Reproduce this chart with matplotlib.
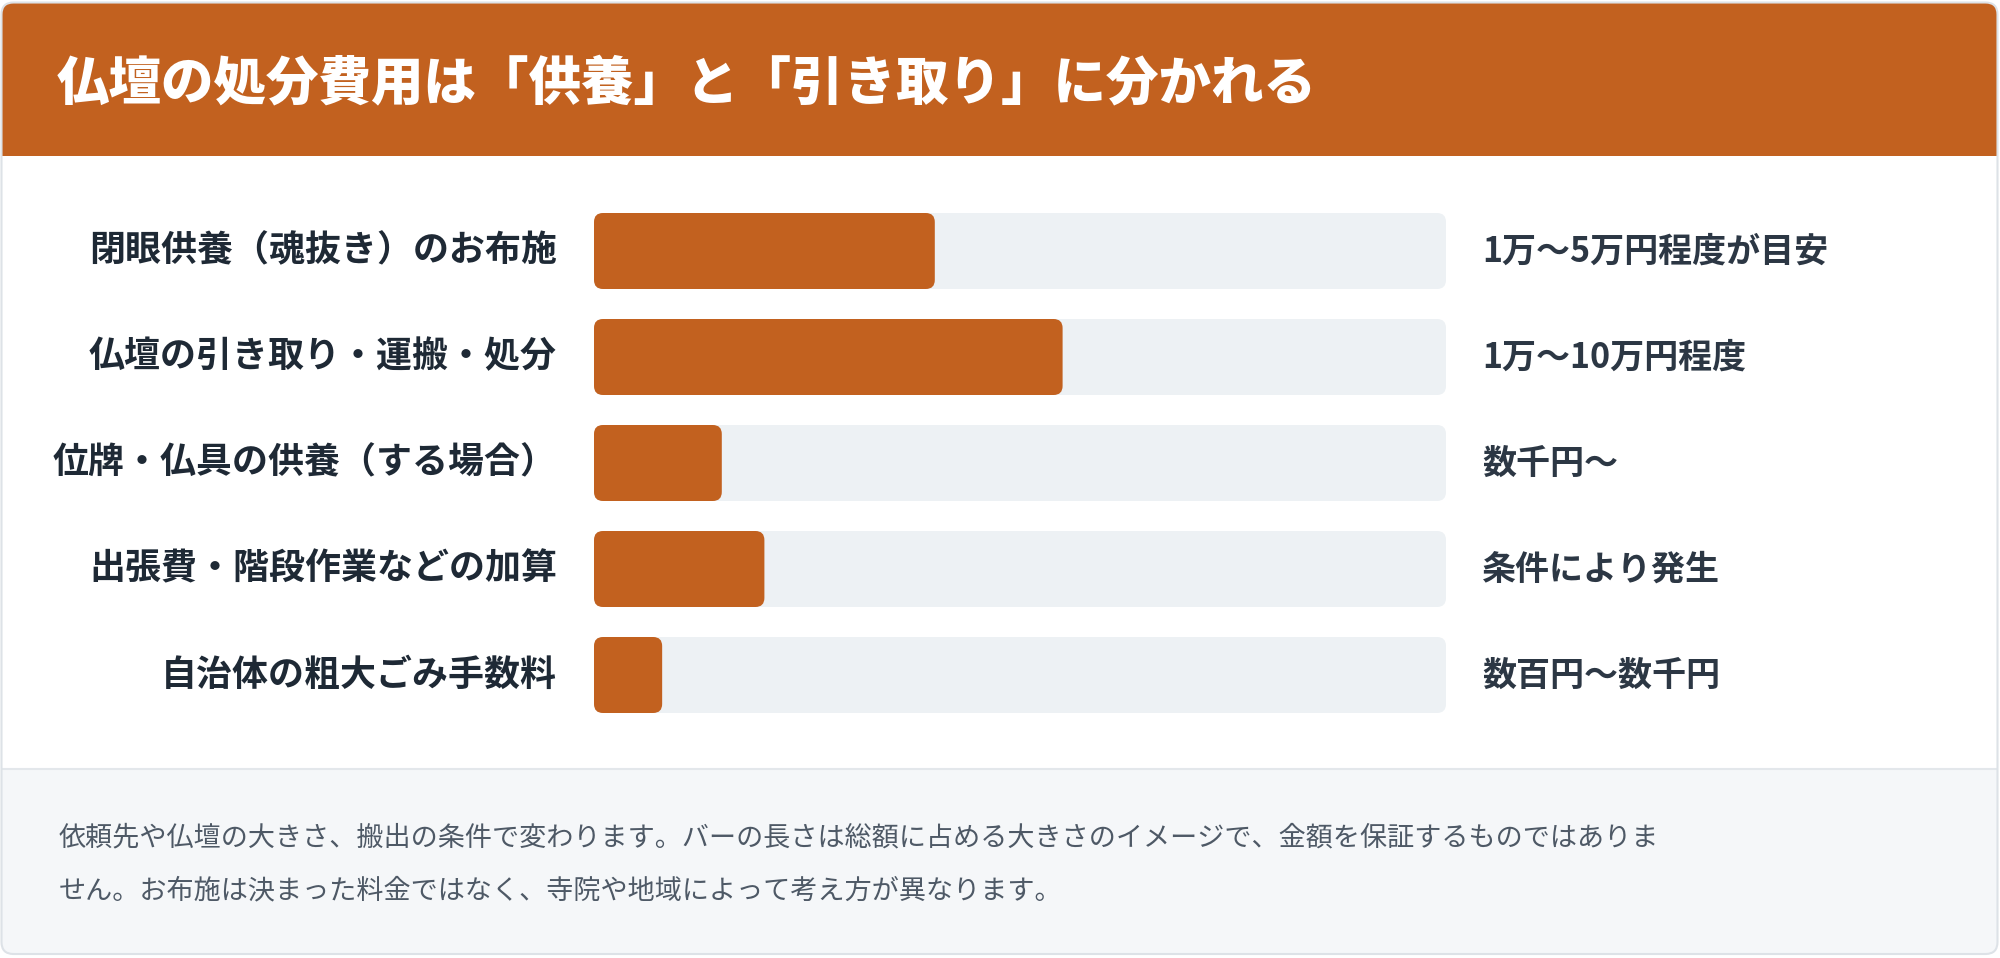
import matplotlib
matplotlib.use("Agg")
import matplotlib.pyplot as plt
from matplotlib.patches import FancyBboxPatch, Rectangle

# ---- data ----
title = "仏壇の処分費用は「供養」と「引き取り」に分かれる"
categories = [
    "閉眼供養（魂抜き）のお布施",
    "仏壇の引き取り・運搬・処分",
    "位牌・仏具の供養（する場合）",
    "出張費・階段作業などの加算",
    "自治体の粗大ごみ手数料",
]
values = [40, 55, 15, 20, 8]  # relative share image (%)
value_labels = [
    "1万〜5万円程度が目安",
    "1万〜10万円程度",
    "数千円〜",
    "条件により発生",
    "数百円〜数千円",
]
footer_lines = [
    "依頼先や仏壇の大きさ、搬出の条件で変わります。バーの長さは総額に占める大きさのイメージで、金額を保証するものではありま",
    "せん。お布施は決まった料金ではなく、寺院や地域によって考え方が異なります。",
]

# ---- style ----
W, H = 2000, 958
DPI = 100
ACCENT = "#C2611F"
TRACK = "#EDF1F4"
BORDER = "#DDE2E7"
FOOT_BG = "#F5F7F9"
LABEL_C = "#1E2935"
VALUE_C = "#2C3744"
FOOT_C = "#4E5966"
JP = ["Noto Sans CJK JP", "DejaVu Sans"]

plt.rcParams["font.family"] = JP

fig = plt.figure(figsize=(W / DPI, H / DPI), dpi=DPI)
fig.patch.set_facecolor("white")

# background / card axes in pixel coordinates
bg = fig.add_axes([0, 0, 1, 1])
bg.set_xlim(0, W)
bg.set_ylim(H, 0)
bg.axis("off")

R = 12
card_x0, card_x1, card_y0, card_y1 = 1.5, W - 2.5, 2.5, H - 4
head_y1 = 156
foot_y0 = 769

# white card
bg.add_patch(FancyBboxPatch((card_x0, card_y0), card_x1 - card_x0, card_y1 - card_y0,
                            boxstyle=f"round,pad=0,rounding_size={R}",
                            facecolor="white", edgecolor="none", zorder=0))
# header
bg.add_patch(FancyBboxPatch((card_x0, card_y0), card_x1 - card_x0, head_y1 - card_y0,
                            boxstyle=f"round,pad=0,rounding_size={R}",
                            facecolor=ACCENT, edgecolor="none", zorder=1))
bg.add_patch(Rectangle((card_x0, head_y1 - 30), card_x1 - card_x0, 30,
                       facecolor=ACCENT, edgecolor="none", zorder=1))
# footer
bg.add_patch(FancyBboxPatch((card_x0, foot_y0), card_x1 - card_x0, card_y1 - foot_y0,
                            boxstyle=f"round,pad=0,rounding_size={R}",
                            facecolor=FOOT_BG, edgecolor="none", zorder=1))
bg.add_patch(Rectangle((card_x0, foot_y0), card_x1 - card_x0, 30,
                       facecolor=FOOT_BG, edgecolor="none", zorder=1))
bg.plot([card_x0, card_x1], [foot_y0, foot_y0], color="#E3E7EB", lw=1.5, zorder=2,
        solid_capstyle="butt")
# card border
bg.add_patch(FancyBboxPatch((card_x0, card_y0), card_x1 - card_x0, card_y1 - card_y0,
                            boxstyle=f"round,pad=0,rounding_size={R}",
                            facecolor="none", edgecolor=BORDER, lw=1.5, zorder=3))

# title
bg.text(57, 84, title, color="white", fontsize=37.8, fontweight="heavy",
        ha="left", va="center", zorder=4)

# footer text
for i, line in enumerate(footer_lines):
    bg.text(59, 838 + i * 53, line, color=FOOT_C, fontsize=19.5,
            ha="left", va="center", zorder=4)

# ---- bars axes ----
track_x0, track_x1 = 594, 1446
row0, row_step = 251, 106
n = len(categories)
ax_top = row0 - row_step / 2
ax_h = row_step * n
ax = fig.add_axes([track_x0 / W, (H - ax_top - ax_h) / H,
                   (track_x1 - track_x0) / W, ax_h / H])
ax.set_xlim(0, 100)
ax.set_ylim(n - 0.5, -0.5)
ax.axis("off")

sx = (track_x1 - track_x0) / 100.0   # px per x unit
sy = row_step                          # px per y unit
bar_h = 76 / row_step
rpx = 9


def rbox(x0, w, yc, color, z):
    ax.add_patch(FancyBboxPatch((x0, yc - bar_h / 2), w, bar_h,
                                boxstyle=f"round,pad=0,rounding_size={rpx / sx}",
                                mutation_aspect=sx / sy,
                                facecolor=color, edgecolor="none", zorder=z))


for i, (cat, v, vl) in enumerate(zip(categories, values, value_labels)):
    rbox(0, 100, i, TRACK, 1)
    rbox(0, v, i, ACCENT, 2)
    ax.annotate(cat, xy=(0, i), xytext=(-37, 0), textcoords="offset pixels",
                ha="right", va="center", fontsize=25.9, fontweight="bold",
                color=LABEL_C, annotation_clip=False)
    ax.annotate(vl, xy=(100, i), xytext=(36, 0), textcoords="offset pixels",
                ha="left", va="center", fontsize=24.5, fontweight="bold",
                color=VALUE_C, annotation_clip=False)

fig.savefig("out.png", dpi=DPI, facecolor="white")
